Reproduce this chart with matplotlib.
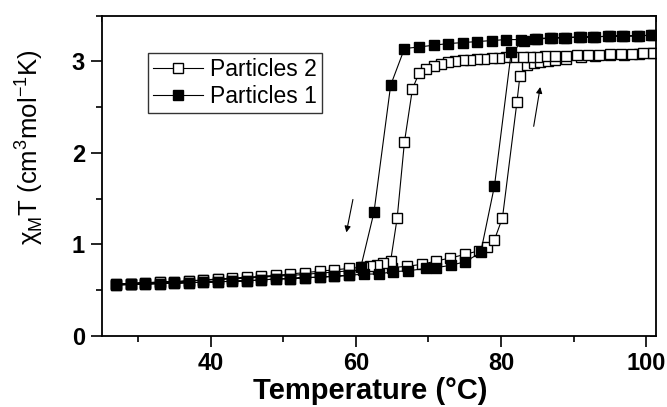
import matplotlib
matplotlib.use("Agg")
import matplotlib.pyplot as plt
from matplotlib.ticker import MultipleLocator

plt.rcParams['font.family'] = ['Liberation Sans', 'DejaVu Sans']

# Particles 1 (filled squares): heating and cooling branches
T1_heat = [27, 29, 31, 33, 35, 37, 39, 41, 43, 45, 47, 49, 51, 53, 55, 57, 59,
           61.1, 63.2, 65.1, 67.2, 69.7, 71.1, 73.1, 75.1, 77.2, 79.1, 81.4,
           83.1, 85.0, 87.0, 89.0, 91.0, 93.0, 95.0, 97.0, 99.0, 101.0]
chi1_heat = [0.555, 0.56, 0.565, 0.57, 0.575, 0.58, 0.585, 0.59, 0.595, 0.60,
             0.61, 0.62, 0.625, 0.635, 0.64, 0.65, 0.66,
             0.674, 0.675, 0.70, 0.71, 0.736, 0.745, 0.77, 0.81, 0.91, 1.64, 3.10,
             3.22, 3.245, 3.255, 3.26, 3.265, 3.27, 3.275, 3.28, 3.28, 3.29]
T1_cool = [100.7, 98.7, 96.7, 94.7, 92.7, 90.7, 88.7, 86.7, 84.7, 82.7, 80.7,
           78.7, 76.7, 74.7, 72.7, 70.7, 68.7, 66.7, 64.8, 62.5, 60.7,
           59, 57, 55, 53, 51, 49, 47, 45, 43, 41, 39, 37, 35, 33, 31, 29, 27]
chi1_cool = [3.286, 3.279, 3.279, 3.276, 3.268, 3.268, 3.261, 3.257, 3.250, 3.239,
             3.239, 3.228, 3.217, 3.206, 3.195, 3.177, 3.158, 3.141, 2.74, 1.35,
             0.754, 0.66, 0.65, 0.64, 0.635, 0.625, 0.62, 0.61, 0.60, 0.595, 0.59,
             0.585, 0.58, 0.575, 0.57, 0.565, 0.56, 0.555]

# Particles 2 (open squares): heating and cooling branches
T2_heat = [27, 29, 31, 33, 35, 37, 39, 41, 43, 45, 47, 49, 51, 53, 55, 57, 59,
           61, 63, 65, 67.1, 69.1, 71.0, 73.0, 75.1, 77.0, 78.1, 79.1, 80.2,
           82.2, 82.6, 83.6, 84.5, 85.4, 86.5, 87.5, 89, 91, 93, 95, 97, 99, 101]
chi2_heat = [0.565, 0.57, 0.58, 0.585, 0.59, 0.60, 0.605, 0.615, 0.62, 0.63,
             0.64, 0.65, 0.66, 0.67, 0.685, 0.695, 0.71, 0.72, 0.73, 0.745,
             0.76, 0.78, 0.816, 0.85, 0.89, 0.93, 0.97, 1.05, 1.29,
             2.56, 2.84, 2.96, 2.98, 2.995, 3.005, 3.015, 3.03, 3.045, 3.055,
             3.065, 3.075, 3.08, 3.09]
T2_cool = [101, 99.5, 98, 96.5, 95, 93.5, 92, 90.5, 89, 87.5, 86, 85, 84, 83,
           81.7, 80.7, 79.7, 78.7, 77.7, 76.7, 75.7, 74.7, 73.7, 72.7, 71.7,
           70.7, 69.7, 68.7, 67.8, 66.7, 65.7, 64.8, 63.8, 62.9, 61.9, 61,
           59, 57, 55, 53, 51, 49, 47, 45, 43, 41, 39, 37, 35, 33, 31, 29, 27]
chi2_cool = [3.09, 3.088, 3.085, 3.08, 3.078, 3.075, 3.07, 3.065, 3.06, 3.058,
             3.055, 3.052, 3.05, 3.048, 3.045, 3.043, 3.04, 3.035, 3.03, 3.028,
             3.02, 3.013, 3.00, 2.99, 2.97, 2.95, 2.92, 2.87, 2.70, 2.12, 1.29,
             0.82, 0.79, 0.77, 0.76, 0.75,
             0.735, 0.72, 0.705, 0.69, 0.675, 0.66, 0.65, 0.64, 0.63, 0.62,
             0.61, 0.60, 0.59, 0.585, 0.58, 0.57, 0.565]

labels = ["Particles 2", "Particles 1"]
x_ticks = [40, 60, 80, 100]
y_ticks = [0, 1, 2, 3]

fig = plt.figure(figsize=(6.67, 4.07), dpi=100)
ax = fig.add_axes([0.1525, 0.1752, 0.8305, 0.7862])

ax.plot(T2_heat + T2_cool, chi2_heat + chi2_cool, '-s', color='k', lw=0.8,
        ms=7.3, mfc='white', mec='k', mew=1.0, label=labels[0])
ax.plot(T1_heat + T1_cool, chi1_heat + chi1_cool, '-s', color='k', lw=0.8,
        ms=7.3, mfc='k', mec='k', mew=1.0, label=labels[1])

ax.annotate('', xy=(58.7, 1.13), xytext=(59.6, 1.49),
            arrowprops=dict(arrowstyle='-|>', lw=0.8, color='k', mutation_scale=9,
                            shrinkA=0, shrinkB=0))
ax.annotate('', xy=(85.4, 2.72), xytext=(84.5, 2.29),
            arrowprops=dict(arrowstyle='-|>', lw=0.8, color='k', mutation_scale=9,
                            shrinkA=0, shrinkB=0))

ax.set_xlim(25, 101.3)
ax.set_ylim(0, 3.5)
ax.set_xticks(x_ticks)
ax.set_yticks(y_ticks)
ax.xaxis.set_minor_locator(MultipleLocator(10))
ax.yaxis.set_minor_locator(MultipleLocator(0.5))
ax.tick_params(which='major', direction='out', length=8, width=1.2,
               labelsize=17, pad=4, top=False, right=False)
ax.tick_params(which='minor', direction='out', length=4, width=1.2,
               top=False, right=False)
for lab in ax.get_xticklabels() + ax.get_yticklabels():
    lab.set_fontweight('bold')
for s in ax.spines.values():
    s.set_linewidth(1.3)

# top/right axes of the second layer (ticks only)
ax2 = fig.add_axes(ax.get_position(), facecolor='none')
ax2.set_xlim(0, 1)
ax2.set_ylim(0, 1)
for s in ax2.spines.values():
    s.set_visible(False)
ax2.xaxis.tick_top()
ax2.yaxis.tick_right()
ax2.set_xticks([0.2, 0.4, 0.6, 0.8])
ax2.set_yticks([0.2, 0.4, 0.6, 0.8])
ax2.xaxis.set_minor_locator(MultipleLocator(0.1))
ax2.yaxis.set_minor_locator(MultipleLocator(0.1))
ax2.tick_params(which='major', direction='in', length=8, width=1.2,
                labeltop=False, labelright=False, labelbottom=False, labelleft=False)
ax2.tick_params(which='minor', direction='in', length=4, width=1.2)
ax2.set_zorder(-1)

ax.set_xlabel('Temperature (°C)', fontsize=21, fontweight='bold')
ax.xaxis.set_label_coords(0.484, -0.128)
ax.set_ylabel('χ$_\\mathregular{M}$T (cm$^\\mathregular{3}$mol$^\\mathregular{-1}$K)',
              fontsize=18.5)
ax.yaxis.set_label_coords(-0.103, 0.59)

leg = ax.legend(loc='upper left', bbox_to_anchor=(0.084, 0.8825), borderaxespad=0,
                fontsize=16.5, frameon=True, fancybox=False, handlelength=2.2,
                handletextpad=0.3, labelspacing=0.2, borderpad=0.2)
leg.get_frame().set_edgecolor('k')
leg.get_frame().set_linewidth(1.0)

fig.savefig('out.png', dpi=100)
